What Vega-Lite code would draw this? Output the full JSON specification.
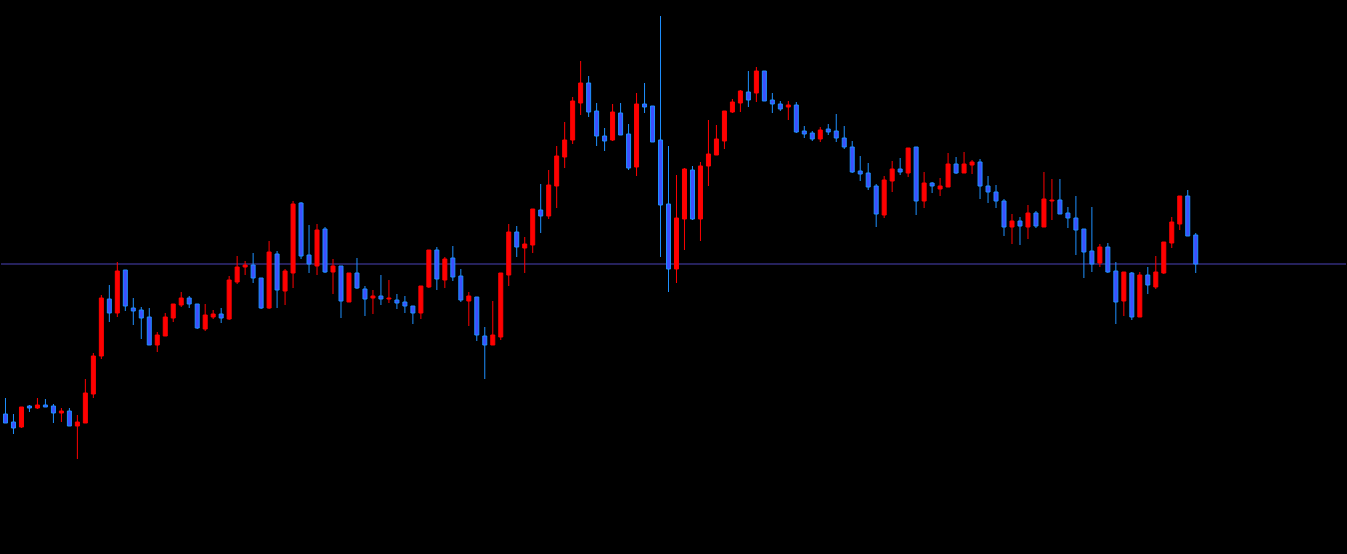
{
  "$schema": "https://vega.github.io/schema/vega-lite/v6.json",
  "width": 1347,
  "height": 554,
  "autosize": {"type": "fit", "contains": "padding"},
  "padding": 0,
  "background": "#000000",
  "config": {"view": {"stroke": null}, "scale": {"continuousPadding": 0}},
  "datasets": {
    "candles": [
      {"i":0,"o":140,"h":156,"l":131,"c":131},
      {"i":1,"o":132,"h":140,"l":120,"c":126},
      {"i":2,"o":127,"h":147,"l":126,"c":147},
      {"i":3,"o":148,"h":149,"l":142,"c":146},
      {"i":4,"o":146,"h":156,"l":145,"c":149},
      {"i":5,"o":149,"h":155,"l":147,"c":147},
      {"i":6,"o":148,"h":150,"l":131,"c":141},
      {"i":7,"o":141,"h":146,"l":132,"c":143},
      {"i":8,"o":143,"h":146,"l":128,"c":128},
      {"i":9,"o":128,"h":139,"l":95,"c":132},
      {"i":10,"o":131,"h":175,"l":131,"c":161},
      {"i":11,"o":160,"h":201,"l":156,"c":198},
      {"i":12,"o":198,"h":259,"l":195,"c":256},
      {"i":13,"o":255,"h":269,"l":232,"c":241},
      {"i":14,"o":241,"h":292,"l":237,"c":283},
      {"i":15,"o":284,"h":284,"l":243,"c":248},
      {"i":16,"o":246,"h":256,"l":229,"c":243},
      {"i":17,"o":244,"h":247,"l":215,"c":236},
      {"i":18,"o":237,"h":246,"l":209,"c":209},
      {"i":19,"o":209,"h":222,"l":202,"c":219},
      {"i":20,"o":218,"h":241,"l":218,"c":237},
      {"i":21,"o":236,"h":250,"l":232,"c":250},
      {"i":22,"o":249,"h":262,"l":247,"c":256},
      {"i":23,"o":256,"h":258,"l":246,"c":250},
      {"i":24,"o":250,"h":250,"l":225,"c":226},
      {"i":25,"o":225,"h":250,"l":223,"c":239},
      {"i":26,"o":237,"h":244,"l":235,"c":240},
      {"i":27,"o":240,"h":246,"l":231,"c":236},
      {"i":28,"o":235,"h":278,"l":234,"c":274},
      {"i":29,"o":272,"h":298,"l":270,"c":287},
      {"i":30,"o":287,"h":293,"l":279,"c":289},
      {"i":31,"o":289,"h":301,"l":271,"c":276},
      {"i":32,"o":276,"h":276,"l":245,"c":246},
      {"i":33,"o":246,"h":313,"l":245,"c":302},
      {"i":34,"o":300,"h":303,"l":246,"c":264},
      {"i":35,"o":263,"h":285,"l":249,"c":283},
      {"i":36,"o":281,"h":353,"l":266,"c":350},
      {"i":37,"o":351,"h":352,"l":295,"c":298},
      {"i":38,"o":299,"h":329,"l":281,"c":290},
      {"i":39,"o":288,"h":330,"l":279,"c":324},
      {"i":40,"o":325,"h":327,"l":281,"c":282},
      {"i":41,"o":282,"h":295,"l":260,"c":288},
      {"i":42,"o":288,"h":288,"l":236,"c":253},
      {"i":43,"o":252,"h":281,"l":252,"c":281},
      {"i":44,"o":281,"h":296,"l":265,"c":266},
      {"i":45,"o":265,"h":268,"l":238,"c":255},
      {"i":46,"o":256,"h":264,"l":240,"c":258},
      {"i":47,"o":258,"h":279,"l":249,"c":255},
      {"i":48,"o":255,"h":274,"l":251,"c":256},
      {"i":49,"o":254,"h":260,"l":245,"c":251},
      {"i":50,"o":252,"h":258,"l":241,"c":248},
      {"i":51,"o":248,"h":248,"l":230,"c":241},
      {"i":52,"o":241,"h":268,"l":235,"c":268},
      {"i":53,"o":267,"h":304,"l":266,"c":304},
      {"i":54,"o":304,"h":307,"l":264,"c":275},
      {"i":55,"o":274,"h":297,"l":266,"c":295},
      {"i":56,"o":296,"h":308,"l":273,"c":277},
      {"i":57,"o":278,"h":285,"l":252,"c":254},
      {"i":58,"o":253,"h":262,"l":228,"c":258},
      {"i":59,"o":257,"h":257,"l":213,"c":219},
      {"i":60,"o":218,"h":227,"l":175,"c":209},
      {"i":61,"o":209,"h":253,"l":209,"c":219},
      {"i":62,"o":217,"h":281,"l":214,"c":281},
      {"i":63,"o":279,"h":330,"l":268,"c":322},
      {"i":64,"o":322,"h":328,"l":297,"c":307},
      {"i":65,"o":306,"h":317,"l":281,"c":310},
      {"i":66,"o":309,"h":345,"l":301,"c":345},
      {"i":67,"o":344,"h":370,"l":321,"c":338},
      {"i":68,"o":338,"h":384,"l":335,"c":369},
      {"i":69,"o":368,"h":408,"l":346,"c":398},
      {"i":70,"o":397,"h":432,"l":386,"c":414},
      {"i":71,"o":414,"h":457,"l":410,"c":453},
      {"i":72,"o":451,"h":493,"l":439,"c":471},
      {"i":73,"o":471,"h":478,"l":437,"c":442},
      {"i":74,"o":443,"h":451,"l":408,"c":418},
      {"i":75,"o":418,"h":426,"l":403,"c":413},
      {"i":76,"o":414,"h":450,"l":413,"c":442},
      {"i":77,"o":441,"h":451,"l":419,"c":419},
      {"i":78,"o":420,"h":430,"l":384,"c":386},
      {"i":79,"o":387,"h":461,"l":378,"c":450},
      {"i":80,"o":450,"h":471,"l":441,"c":447},
      {"i":81,"o":448,"h":448,"l":412,"c":412},
      {"i":82,"o":414,"h":538,"l":297,"c":349},
      {"i":83,"o":350,"h":408,"l":262,"c":285},
      {"i":84,"o":285,"h":379,"l":271,"c":336},
      {"i":85,"o":335,"h":386,"l":304,"c":385},
      {"i":86,"o":384,"h":388,"l":334,"c":335},
      {"i":87,"o":335,"h":392,"l":313,"c":388},
      {"i":88,"o":388,"h":434,"l":368,"c":400},
      {"i":89,"o":399,"h":429,"l":399,"c":415},
      {"i":90,"o":413,"h":443,"l":405,"c":443},
      {"i":91,"o":442,"h":455,"l":441,"c":452},
      {"i":92,"o":451,"h":464,"l":442,"c":463},
      {"i":93,"o":462,"h":483,"l":447,"c":454},
      {"i":94,"o":461,"h":487,"l":452,"c":483},
      {"i":95,"o":483,"h":483,"l":453,"c":453},
      {"i":96,"o":454,"h":461,"l":441,"c":450},
      {"i":97,"o":450,"h":453,"l":443,"c":445},
      {"i":98,"o":447,"h":453,"l":434,"c":449},
      {"i":99,"o":449,"h":452,"l":421,"c":422},
      {"i":100,"o":423,"h":428,"l":416,"c":420},
      {"i":101,"o":421,"h":423,"l":413,"c":415},
      {"i":102,"o":415,"h":427,"l":412,"c":424},
      {"i":103,"o":425,"h":430,"l":419,"c":422},
      {"i":104,"o":423,"h":440,"l":412,"c":416},
      {"i":105,"o":416,"h":428,"l":405,"c":407},
      {"i":106,"o":407,"h":413,"l":381,"c":382},
      {"i":107,"o":383,"h":398,"l":373,"c":380},
      {"i":108,"o":381,"h":391,"l":364,"c":367},
      {"i":109,"o":368,"h":370,"l":327,"c":340},
      {"i":110,"o":339,"h":378,"l":336,"c":374},
      {"i":111,"o":373,"h":393,"l":362,"c":385},
      {"i":112,"o":385,"h":396,"l":379,"c":382},
      {"i":113,"o":381,"h":406,"l":377,"c":406},
      {"i":114,"o":407,"h":407,"l":339,"c":353},
      {"i":115,"o":353,"h":382,"l":346,"c":371},
      {"i":116,"o":371,"h":372,"l":361,"c":368},
      {"i":117,"o":365,"h":376,"l":358,"c":368},
      {"i":118,"o":367,"h":401,"l":367,"c":390},
      {"i":119,"o":390,"h":397,"l":380,"c":381},
      {"i":120,"o":381,"h":402,"l":381,"c":390},
      {"i":121,"o":389,"h":394,"l":380,"c":392},
      {"i":122,"o":392,"h":395,"l":355,"c":368},
      {"i":123,"o":368,"h":378,"l":351,"c":362},
      {"i":124,"o":362,"h":369,"l":346,"c":353},
      {"i":125,"o":353,"h":355,"l":318,"c":327},
      {"i":126,"o":327,"h":340,"l":310,"c":333},
      {"i":127,"o":333,"h":337,"l":309,"c":328},
      {"i":128,"o":327,"h":349,"l":315,"c":341},
      {"i":129,"o":341,"h":343,"l":326,"c":328},
      {"i":130,"o":327,"h":382,"l":327,"c":355},
      {"i":131,"o":353,"h":375,"l":334,"c":354},
      {"i":132,"o":354,"h":375,"l":340,"c":340},
      {"i":133,"o":341,"h":347,"l":326,"c":336},
      {"i":134,"o":336,"h":358,"l":299,"c":324},
      {"i":135,"o":325,"h":325,"l":276,"c":302},
      {"i":136,"o":303,"h":347,"l":282,"c":290},
      {"i":137,"o":291,"h":310,"l":287,"c":307},
      {"i":138,"o":307,"h":311,"l":281,"c":282},
      {"i":139,"o":283,"h":292,"l":230,"c":252},
      {"i":140,"o":253,"h":282,"l":238,"c":282},
      {"i":141,"o":281,"h":282,"l":234,"c":237},
      {"i":142,"o":237,"h":282,"l":237,"c":279},
      {"i":143,"o":279,"h":287,"l":260,"c":269},
      {"i":144,"o":267,"h":298,"l":265,"c":282},
      {"i":145,"o":281,"h":312,"l":280,"c":312},
      {"i":146,"o":311,"h":337,"l":306,"c":332},
      {"i":147,"o":330,"h":358,"l":324,"c":358},
      {"i":148,"o":358,"h":364,"l":318,"c":318},
      {"i":149,"o":319,"h":321,"l":281,"c":290}
    ],
    "level": [{"price": 290}]
  },
  "layer": [
    {
      "data": {"name": "level"},
      "mark": {"type": "rule", "color": "#4a42b8", "strokeWidth": 1},
      "encoding": {
        "y": {"field": "price", "type": "quantitative", "scale": {"domain": [0, 554], "nice": false, "zero": false}, "axis": null}
      }
    },
    {
      "data": {"name": "candles"},
      "mark": {"type": "rule", "strokeWidth": 1},
      "encoding": {
        "x": {"field": "i", "type": "quantitative", "scale": {"domain": [-0.5625, 167.8125], "nice": false, "zero": false, "padding": 0}, "axis": null},
        "y": {"field": "l", "type": "quantitative", "scale": {"domain": [0, 554], "nice": false, "zero": false}, "axis": null},
        "y2": {"field": "h"},
        "color": {"condition": {"test": "datum.c >= datum.o", "value": "#ff0000"}, "value": "#1e90ff"}
      }
    },
    {
      "data": {"name": "candles"},
      "mark": {"type": "bar", "size": 4, "strokeWidth": 1},
      "encoding": {
        "x": {"field": "i", "type": "quantitative", "scale": {"domain": [-0.5625, 167.8125], "nice": false, "zero": false, "padding": 0}, "axis": null},
        "y": {"field": "o", "type": "quantitative", "scale": {"domain": [0, 554], "nice": false, "zero": false}, "axis": null},
        "y2": {"field": "c"},
        "fill": {"condition": {"test": "datum.c >= datum.o", "value": "#ff0000"}, "value": "#3d4fff"},
        "stroke": {"condition": {"test": "datum.c >= datum.o", "value": "#ff0000"}, "value": "#1e90ff"}
      }
    }
  ]
}
